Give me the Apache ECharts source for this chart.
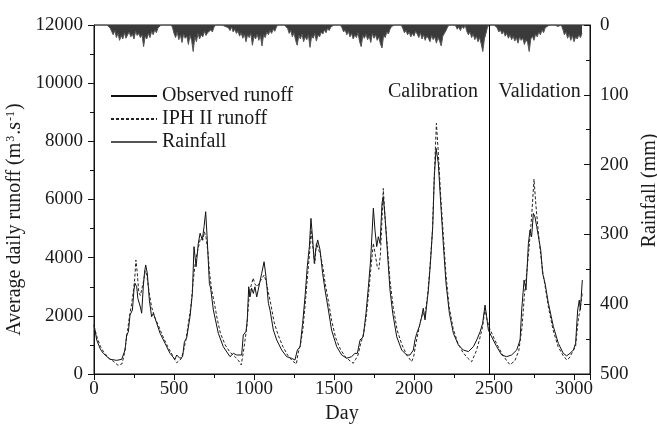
<!DOCTYPE html>
<html><head><meta charset="utf-8">
<script src="https://cdn.jsdelivr.net/npm/echarts@6/dist/echarts.min.js"></script>
<style>html,body{margin:0;padding:0;background:#fff}#c{width:657px;height:426px}</style>
</head><body><div id="c"></div>
<script>
// Observed runoff (m3/s): [day, value]
const observedRunoff = [[0,1700],[17,1170],[40,850],[58,710],[100,505],[142,470],[173,505],[194,825],[204,1340],[215,1450],[225,2030],[240,2200],[250,2900],[256,3120],[267,3000],[274,2600],[281,2540],[290,2300],[298,2090],[308,3000],[316,3500],[323,3750],[333,3470],[346,2540],[360,1970],[371,2090],[385,1860],[413,1400],[444,1055],[475,710],[506,505],[517,653],[537,540],[554,596],[565,1110],[579,1230],[600,1970],[615,2770],[625,4380],[638,3690],[652,4490],[663,4840],[677,4610],[688,5070],[698,5580],[708,4610],[721,3120],[729,2950],[746,2200],[777,1400],[808,940],[850,596],[871,710],[892,653],[923,653],[933,1340],[950,1460],[958,1860],[967,3000],[975,2650],[985,2950],[996,2770],[1006,3000],[1017,2650],[1027,2700],[1048,3460],[1063,3860],[1075,3340],[1090,2430],[1100,2200],[1121,1510],[1142,1170],[1173,825],[1204,596],[1235,540],[1256,480],[1271,825],[1288,940],[1304,1740],[1319,2660],[1333,3690],[1346,4380],[1356,5350],[1367,4610],[1377,3800],[1385,4260],[1398,4610],[1413,4260],[1429,3460],[1444,2890],[1465,2200],[1485,1510],[1517,940],[1548,653],[1579,540],[1610,596],[1631,710],[1646,710],[1663,1170],[1683,1280],[1700,2090],[1715,3000],[1729,3920],[1746,5700],[1756,4950],[1767,4380],[1777,4720],[1788,4490],[1800,5870],[1808,6100],[1819,5400],[1833,4260],[1850,2890],[1867,2090],[1892,1280],[1923,825],[1954,653],[1975,653],[1996,825],[2006,1170],[2017,1400],[2033,1630],[2048,1970],[2058,2260],[2069,1860],[2090,2890],[2104,3920],[2117,5070],[2127,6780],[2138,7760],[2152,7240],[2167,5870],[2183,4490],[2200,3120],[2221,2090],[2246,1400],[2277,1000],[2308,825],[2340,770],[2371,940],[2392,1170],[2413,1450],[2429,1740],[2444,2370],[2454,1970],[2465,1510],[2485,1280],[2517,940],[2548,653],[2579,596],[2610,653],[2642,825],[2663,1170],[2673,2200],[2688,3230],[2700,2890],[2715,4490],[2725,4950],[2735,4720],[2746,5520],[2756,5400],[2767,5070],[2777,5120],[2792,4260],[2804,3460],[2819,3120],[2840,2430],[2871,1630],[2902,1055],[2933,710],[2954,625],[2975,710],[2996,825],[3010,1055],[3023,2200],[3033,2540],[3040,2200],[3052,3230]];

// IPH II simulated runoff (m3/s): [day, value]
const simulatedRunoff = [[0,1650],[20,1250],[40,950],[60,760],[90,560],[120,440],[150,300],[162,250],[175,350],[190,700],[200,1100],[210,1500],[222,2000],[235,2400],[245,2800],[255,3300],[262,3920],[270,3500],[280,2800],[290,2700],[300,2750],[310,3200],[320,3550],[330,3400],[345,2800],[360,2300],[380,1950],[400,1700],[430,1300],[460,950],[490,650],[505,480],[517,390],[530,450],[545,520],[560,800],[575,1200],[590,1750],[605,2300],[620,3200],[635,3900],[650,4300],[665,4650],[680,4600],[690,4890],[700,4700],[712,4200],[722,3500],[735,2900],[750,2500],[770,1900],[790,1400],[820,1000],[850,750],[880,600],[905,450],[920,310],[932,700],[945,1200],[955,1600],[965,2400],[975,2900],[985,3100],[995,3300],[1005,3100],[1020,3000],[1035,3150],[1050,3300],[1063,3400],[1075,3200],[1090,2800],[1105,2400],[1125,1800],[1150,1350],[1180,950],[1210,650],[1240,450],[1265,344],[1275,700],[1290,1000],[1305,1500],[1320,2400],[1335,3400],[1348,4200],[1356,4950],[1367,4400],[1380,3800],[1390,4500],[1400,4450],[1415,4100],[1430,3700],[1445,3100],[1465,2500],[1485,1850],[1510,1250],[1540,850],[1570,600],[1600,450],[1620,370],[1635,500],[1650,650],[1665,1000],[1685,1400],[1700,1900],[1715,2700],[1730,3600],[1746,4500],[1758,4100],[1770,3700],[1780,3600],[1790,4100],[1800,5300],[1808,6380],[1820,5300],[1835,4300],[1850,3200],[1870,2300],[1895,1500],[1925,1000],[1955,650],[1985,423],[1998,600],[2010,1000],[2025,1400],[2040,1800],[2055,2100],[2068,2000],[2085,2700],[2100,3700],[2115,4900],[2128,7000],[2140,8620],[2152,7600],[2167,6100],[2183,4800],[2200,3400],[2220,2300],[2245,1550],[2275,1050],[2305,750],[2335,550],[2360,420],[2372,370],[2390,800],[2410,1200],[2428,1600],[2444,2250],[2455,1900],[2470,1600],[2490,1350],[2520,1000],[2550,700],[2580,450],[2600,320],[2612,260],[2630,450],[2655,800],[2675,1600],[2690,2700],[2705,3500],[2720,4400],[2735,5400],[2750,6700],[2762,5800],[2775,5000],[2790,4200],[2805,3500],[2820,3000],[2840,2300],[2870,1500],[2900,950],[2930,650],[2955,480],[2970,550],[2990,750],[3010,950],[3025,1800],[3040,2300],[3052,2800]];

// Rainfall (mm), one value every 10 days starting at day 0
const rainStepDays = 10;
const rainfall = [
0,2,0,0,0,0,0,1,0,0,
4,9,14,8,18,12,22,15,20,11,
19,14,10,17,13,20,9,15,12,18,
14,31,16,20,12,18,9,14,7,11,
4,2,0,0,0,1,0,0,0,3,
12,18,10,21,14,25,13,19,16,28,
15,22,38,17,24,12,20,14,17,9,
15,11,13,7,10,3,0,0,0,1,
0,0,2,0,4,8,3,10,6,12,
9,16,11,19,13,24,14,18,12,29,
16,20,13,22,15,30,14,18,10,14,
8,12,6,9,3,0,0,0,1,0,
0,5,12,8,17,11,22,29,15,20,
13,24,17,21,14,32,16,19,12,23,
14,17,10,13,7,11,5,8,3,1,
0,0,0,0,0,4,10,7,14,9,
17,12,20,14,18,11,24,31,15,19,
13,21,16,25,12,19,14,22,17,27,
33,15,18,10,13,6,2,0,0,1,
0,0,0,5,11,8,14,10,17,12,
16,9,13,18,11,20,14,22,16,19,
24,15,21,17,26,18,23,30,16,12,
8,3,0,0,0,0,1,6,3,8,
2,5,0,9,14,10,18,13,21,16,
24,18,27,38,20,12,2,0,0,1,
0,0,4,10,7,13,9,16,12,19,
14,21,16,23,18,26,17,22,19,28,
21,25,38,20,16,22,13,17,10,14,
7,11,4,6,1,0,0,0,0,0,
2,0,0,6,14,10,19,13,22,15,
24,17,20,14,18,12];

const calibrationEndDay = 2470;
const xRange = [0, 3100], xStep = 500;
const yRange = [0, 12000], yStep = 2000;
const rainRange = [0, 500], rainAxisStep = 100;
const names = ['Observed runoff', 'IPH II runoff', 'Rainfall'];
const periodLabels = ['Calibration', 'Validation'];

const FONT = 'Liberation Serif';
const TXT = '#1a1a1a';
const FS = 20, FS_TICK = 19;
const plain = v => String(v);
const chart = echarts.init(document.getElementById('c'));
const rainData = rainfall.map((v, i) => [i * rainStepDays, v]);

chart.setOption({
  animation: false,
  textStyle: { fontFamily: FONT },
  grid: { left: 94, right: 67, top: 25, bottom: 52, outerBoundsMode: 'none', containLabel: false, show: true, borderColor: '#111', borderWidth: 1, backgroundColor: 'transparent' },
  legend: {
    orient: 'vertical', left: 105, top: 81,
    itemWidth: 46, itemHeight: 14, itemGap: 3,
    itemStyle: { opacity: 0 },
    textStyle: { fontFamily: FONT, fontSize: FS, color: TXT },
    data: names
  },
  xAxis: {
    type: 'value', min: xRange[0], max: xRange[1], interval: xStep,
    name: 'Day', nameLocation: 'middle', nameGap: 30,
    nameTextStyle: { fontFamily: FONT, fontSize: FS, color: TXT },
    axisLine: { show: true, lineStyle: { color: '#111', width: 1 } },
    axisTick: { show: true, inside: false, length: 6, lineStyle: { color: '#111' } },
    minorTick: { show: true, splitNumber: 2, length: 4, lineStyle: { color: '#111' } },
    axisLabel: { fontFamily: FONT, fontSize: FS_TICK, color: TXT, margin: 6, showMaxLabel: false, formatter: plain },
    splitLine: { show: false }
  },
  yAxis: [{
    type: 'value', min: yRange[0], max: yRange[1], interval: yStep, position: 'left',
    name: 'Average daily runoff (m{sup|3}.s{sup|-1})', nameLocation: 'middle', nameGap: 57, nameRotate: 90,
    nameTextStyle: { fontFamily: FONT, fontSize: FS, color: TXT, padding: [0, 40, 0, 0], rich: { sup: { fontFamily: FONT, fontSize: 12, color: TXT, verticalAlign: 'top', padding: [0, 1, 7, 1] } } },
    axisLine: { show: true, lineStyle: { color: '#111', width: 1 } },
    axisTick: { show: true, inside: false, length: 6, lineStyle: { color: '#111' } },
    minorTick: { show: true, splitNumber: 2, length: 4, lineStyle: { color: '#111' } },
    axisLabel: { fontFamily: FONT, fontSize: FS_TICK, color: TXT, margin: 11, formatter: plain },
    splitLine: { show: false }
  }, {
    type: 'value', min: rainRange[0], max: rainRange[1], interval: rainAxisStep, position: 'right', inverse: true,
    name: 'Rainfall (mm)', nameLocation: 'middle', nameGap: 35, nameRotate: 90,
    nameTextStyle: { fontFamily: FONT, fontSize: FS, color: TXT, padding: [0, 0, 0, 18] },
    axisLine: { show: true, lineStyle: { color: '#111', width: 1 } },
    axisTick: { show: true, inside: true, length: 6, lineStyle: { color: '#111' } },
    minorTick: { show: true, splitNumber: 2, length: 4, lineStyle: { color: '#111' } },
    axisLabel: { fontFamily: FONT, fontSize: FS_TICK, color: TXT, margin: 10, formatter: plain },
    splitLine: { show: false }
  }],
  series: [{
    name: names[0], type: 'line', data: observedRunoff, symbol: 'none', yAxisIndex: 0,
    lineStyle: { color: '#111', width: 1 }, itemStyle: { color: '#111' },
    markLine: {
      silent: true, symbol: 'none', label: { show: false },
      lineStyle: { color: '#000', width: 1, type: 'solid' },
      data: [{ xAxis: calibrationEndDay }]
    },
    markPoint: {
      symbol: 'circle', symbolSize: 0, silent: true,
      data: [
        { coord: [2400, 9700], label: { show: true, formatter: periodLabels[0], position: 'left', distance: 0, fontFamily: FONT, fontSize: FS, color: TXT } },
        { coord: [2528, 9700], label: { show: true, formatter: periodLabels[1], position: 'right', distance: 0, fontFamily: FONT, fontSize: FS, color: TXT } }
      ]
    }
  }, {
    name: names[1], type: 'line', data: simulatedRunoff, symbol: 'none', yAxisIndex: 0,
    lineStyle: { color: '#222', width: 1, type: [3, 2] }, itemStyle: { color: '#222' }
  }, {
    name: names[2], type: 'line', data: rainData, symbol: 'none', yAxisIndex: 1,
    lineStyle: { color: '#555', width: 1 }, itemStyle: { color: '#555' },
    areaStyle: { color: '#3a3a3a', opacity: 1 }
  }]
});
</script></body></html>
